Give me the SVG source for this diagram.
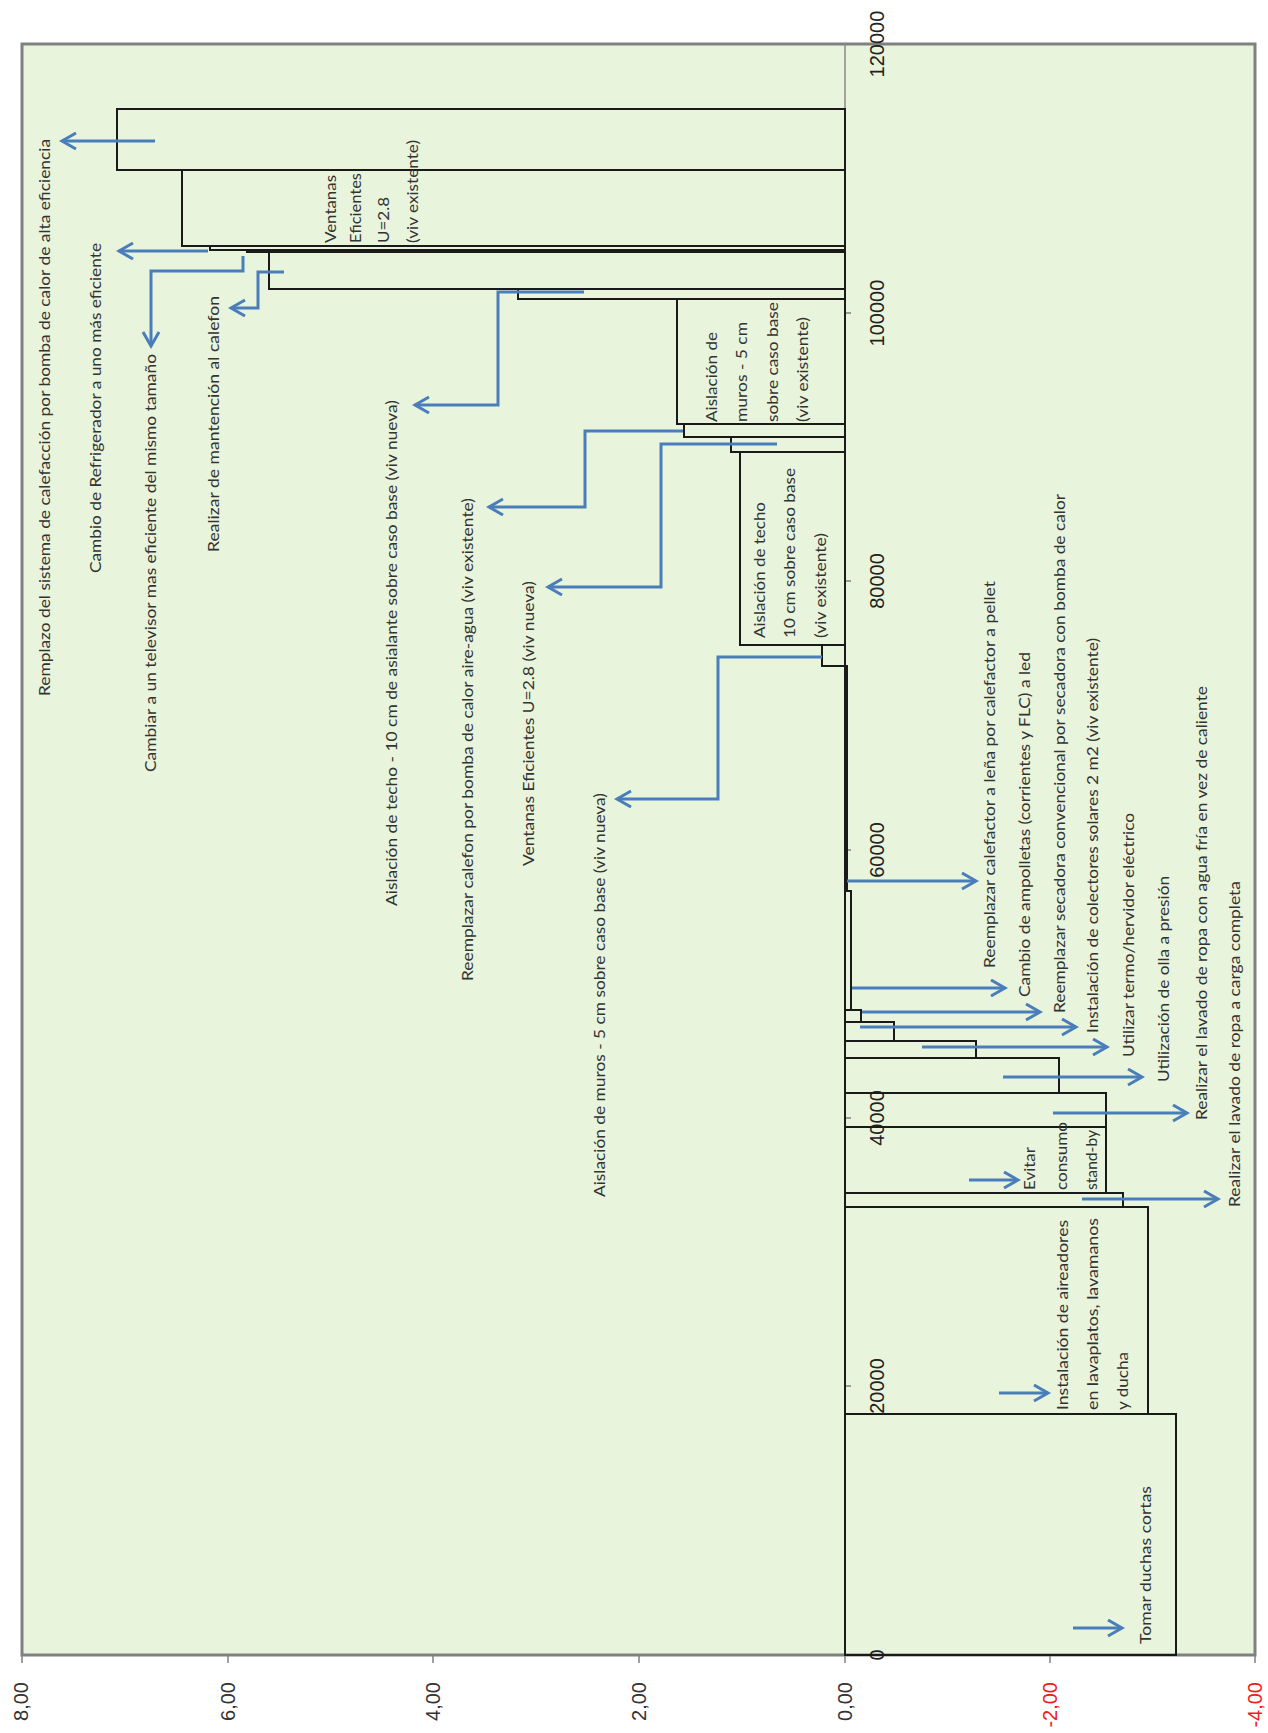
<svg xmlns="http://www.w3.org/2000/svg" width="1268" height="1733" viewBox="0 0 1268 1733">
<defs>
<style>
.bar{fill:none;stroke:#1a1a1a;stroke-width:2}
.lb{font-family:Lato,"Open Sans","Liberation Sans",sans-serif;font-size:16px;fill:#333}
.ax{font-family:"Liberation Sans",Arial,sans-serif;font-size:20px;fill:#222}
.cx{font-family:"Liberation Sans",Arial,sans-serif;font-size:20px;fill:#333}
.neg{fill:#ee1c1c}
.ar{fill:none;stroke:#4a7ebb;stroke-width:3;marker-end:url(#ah)}
.tk{stroke:#808080;stroke-width:1.5}
</style>
<marker id="ah" markerUnits="userSpaceOnUse" markerWidth="20" markerHeight="20" refX="15" refY="9" orient="auto">
<path d="M1,1 L15,9 L1,17" fill="none" stroke="#4a7ebb" stroke-width="3"/>
</marker>
</defs>
<rect width="1268" height="1733" fill="#fff"/>
<g id="plot">
<rect x="22" y="44" width="1233" height="1611" fill="#e9f4dc" stroke="#808080" stroke-width="3"/>
<line x1="845" y1="44" x2="845" y2="1655" stroke="#8a8a8a" stroke-width="1.5"/>
</g>
<g id="axis-abatement">
<line class="tk" x1="845" y1="313" x2="851" y2="313"/>
<line class="tk" x1="845" y1="581" x2="851" y2="581"/>
<line class="tk" x1="845" y1="850" x2="851" y2="850"/>
<line class="tk" x1="845" y1="1118" x2="851" y2="1118"/>
<line class="tk" x1="845" y1="1386" x2="851" y2="1386"/>
<text class="ax" text-anchor="middle" transform="translate(884,44) rotate(-90)">120000</text>
<text class="ax" text-anchor="middle" transform="translate(884,313) rotate(-90)">100000</text>
<text class="ax" text-anchor="middle" transform="translate(884,581) rotate(-90)">80000</text>
<text class="ax" text-anchor="middle" transform="translate(884,850) rotate(-90)">60000</text>
<text class="ax" text-anchor="middle" transform="translate(884,1118) rotate(-90)">40000</text>
<text class="ax" text-anchor="middle" transform="translate(884,1386) rotate(-90)">20000</text>
<text class="ax" text-anchor="middle" transform="translate(884,1655) rotate(-90)">0</text>
</g>
<g id="axis-cost">
<line class="tk" x1="22" y1="1655" x2="22" y2="1663"/>
<line class="tk" x1="228" y1="1655" x2="228" y2="1663"/>
<line class="tk" x1="433" y1="1655" x2="433" y2="1663"/>
<line class="tk" x1="639" y1="1655" x2="639" y2="1663"/>
<line class="tk" x1="845" y1="1655" x2="845" y2="1663"/>
<line class="tk" x1="1050" y1="1655" x2="1050" y2="1663"/>
<line class="tk" x1="1255" y1="1655" x2="1255" y2="1663"/>
<text class="cx" text-anchor="end" transform="translate(28,1682) rotate(-90)">8,00</text>
<text class="cx" text-anchor="end" transform="translate(235,1682) rotate(-90)">6,00</text>
<text class="cx" text-anchor="end" transform="translate(440,1682) rotate(-90)">4,00</text>
<text class="cx" text-anchor="end" transform="translate(646,1682) rotate(-90)">2,00</text>
<text class="cx" text-anchor="end" transform="translate(852,1682) rotate(-90)">0,00</text>
<text class="cx neg" text-anchor="end" transform="translate(1057,1682) rotate(-90)">-2,00</text>
<text class="cx neg" text-anchor="end" transform="translate(1262,1682) rotate(-90)">-4,00</text>
</g>
<g id="m-calefaccion-bomba"><rect class="bar" x="117" y="109" width="728" height="61"/>
<text class="lb" transform="translate(50,696) rotate(-90)" textLength="557" lengthAdjust="spacingAndGlyphs">Remplazo del sistema de calefacción por bomba de calor de alta eficiencia</text></g>
<g id="m-ventanas-existente"><rect class="bar" x="182" y="170" width="663" height="76"/>
<text class="lb" transform="translate(336,243) rotate(-90)" textLength="68" lengthAdjust="spacingAndGlyphs">Ventanas</text>
<text class="lb" transform="translate(361,243) rotate(-90)" textLength="70" lengthAdjust="spacingAndGlyphs">Eficientes</text>
<text class="lb" transform="translate(389,243) rotate(-90)" textLength="46" lengthAdjust="spacingAndGlyphs">U=2.8</text>
<text class="lb" transform="translate(418,243) rotate(-90)" textLength="103" lengthAdjust="spacingAndGlyphs">(viv existente)</text></g>
<g id="m-refrigerador"><rect class="bar" x="210" y="246" width="635" height="4"/>
<text class="lb" transform="translate(101,573) rotate(-90)" textLength="330" lengthAdjust="spacingAndGlyphs">Cambio de Refrigerador a uno más eficiente</text></g>
<g id="m-televisor"><rect class="bar" x="247" y="250" width="598" height="2"/>
<text class="lb" transform="translate(156,772) rotate(-90)" textLength="418" lengthAdjust="spacingAndGlyphs">Cambiar a un televisor mas eficiente del mismo tamaño</text></g>
<g id="m-calefon-mantencion"><rect class="bar" x="269" y="252" width="576" height="37"/>
<text class="lb" transform="translate(219,552) rotate(-90)" textLength="256" lengthAdjust="spacingAndGlyphs">Realizar de mantención al calefon</text></g>
<g id="m-techo-nueva"><rect class="bar" x="518" y="289" width="327" height="10"/>
<text class="lb" transform="translate(397,906) rotate(-90)" textLength="506" lengthAdjust="spacingAndGlyphs">Aislación de techo - 10 cm de asialante  sobre caso base (viv nueva)</text></g>
<g id="m-muros-existente"><rect class="bar" x="677" y="299" width="168" height="125"/>
<text class="lb" transform="translate(717,422) rotate(-90)" textLength="90" lengthAdjust="spacingAndGlyphs">Aislación de</text>
<text class="lb" transform="translate(747,422) rotate(-90)" textLength="100" lengthAdjust="spacingAndGlyphs">muros - 5 cm</text>
<text class="lb" transform="translate(778,422) rotate(-90)" textLength="120" lengthAdjust="spacingAndGlyphs">sobre caso base</text>
<text class="lb" transform="translate(808,422) rotate(-90)" textLength="105" lengthAdjust="spacingAndGlyphs">(viv existente)</text></g>
<g id="m-calefon-bomba"><rect class="bar" x="684" y="424" width="161" height="13"/>
<text class="lb" transform="translate(473,981) rotate(-90)" textLength="483" lengthAdjust="spacingAndGlyphs">Reemplazar calefon por bomba de calor aire-agua (viv existente)</text></g>
<g id="m-ventanas-nueva"><rect class="bar" x="731" y="437" width="114" height="15"/>
<text class="lb" transform="translate(534,866) rotate(-90)" textLength="285" lengthAdjust="spacingAndGlyphs">Ventanas Eficientes  U=2.8 (viv nueva)</text></g>
<g id="m-techo-existente"><rect class="bar" x="740" y="452" width="105" height="193"/>
<text class="lb" transform="translate(765,638) rotate(-90)" textLength="136" lengthAdjust="spacingAndGlyphs">Aislación de techo</text>
<text class="lb" transform="translate(795,638) rotate(-90)" textLength="170" lengthAdjust="spacingAndGlyphs">10 cm sobre caso base</text>
<text class="lb" transform="translate(826,638) rotate(-90)" textLength="105" lengthAdjust="spacingAndGlyphs">(viv existente)</text></g>
<g id="m-muros-nueva"><rect class="bar" x="822" y="645" width="23" height="21"/>
<text class="lb" transform="translate(605,1197) rotate(-90)" textLength="404" lengthAdjust="spacingAndGlyphs">Aislación de muros - 5 cm sobre caso base (viv nueva)</text></g>
<g id="m-pellet"><rect class="bar" x="845" y="666" width="2" height="225"/>
<text class="lb" transform="translate(995,968) rotate(-90)" textLength="387" lengthAdjust="spacingAndGlyphs">Reemplazar calefactor a leña por calefactor a pellet</text></g>
<g id="m-ampolletas"><rect class="bar" x="845" y="891" width="6" height="119"/>
<text class="lb" transform="translate(1030,997) rotate(-90)" textLength="345" lengthAdjust="spacingAndGlyphs">Cambio de ampolletas (corrientes y FLC) a led</text></g>
<g id="m-secadora"><rect class="bar" x="845" y="1010" width="16" height="12"/>
<text class="lb" transform="translate(1065,1013) rotate(-90)" textLength="519" lengthAdjust="spacingAndGlyphs">Reemplazar secadora convencional por secadora con bomba de calor</text></g>
<g id="m-colectores"><rect class="bar" x="845" y="1022" width="49" height="19"/>
<text class="lb" transform="translate(1098,1033) rotate(-90)" textLength="395" lengthAdjust="spacingAndGlyphs">Instalación de colectores solares 2 m2 (viv existente)</text></g>
<g id="m-termo"><rect class="bar" x="845" y="1041" width="131" height="17"/>
<text class="lb" transform="translate(1134,1057) rotate(-90)" textLength="244" lengthAdjust="spacingAndGlyphs">Utilizar termo/hervidor eléctrico</text></g>
<g id="m-olla"><rect class="bar" x="845" y="1058" width="214" height="35"/>
<text class="lb" transform="translate(1169,1082) rotate(-90)" textLength="206" lengthAdjust="spacingAndGlyphs">Utilización de olla a presión</text></g>
<g id="m-lavado-fria"><rect class="bar" x="845" y="1093" width="261" height="34"/>
<text class="lb" transform="translate(1207,1120) rotate(-90)" textLength="434" lengthAdjust="spacingAndGlyphs">Realizar el lavado de ropa con agua fría en vez de caliente</text></g>
<g id="m-standby"><rect class="bar" x="845" y="1127" width="261" height="66"/>
<text class="lb" transform="translate(1035,1190) rotate(-90)" textLength="43" lengthAdjust="spacingAndGlyphs">Evitar</text>
<text class="lb" transform="translate(1067,1190) rotate(-90)" textLength="68" lengthAdjust="spacingAndGlyphs">consumo</text>
<text class="lb" transform="translate(1097,1190) rotate(-90)" textLength="60" lengthAdjust="spacingAndGlyphs">stand-by</text></g>
<g id="m-lavado-carga"><rect class="bar" x="845" y="1193" width="278" height="14"/>
<text class="lb" transform="translate(1240,1207) rotate(-90)" textLength="326" lengthAdjust="spacingAndGlyphs">Realizar el lavado de ropa a carga completa</text></g>
<g id="m-aireadores"><rect class="bar" x="845" y="1207" width="303" height="207"/>
<text class="lb" transform="translate(1068,1410) rotate(-90)" textLength="190" lengthAdjust="spacingAndGlyphs">Instalación de aireadores</text>
<text class="lb" transform="translate(1098,1410) rotate(-90)" textLength="192" lengthAdjust="spacingAndGlyphs">en lavaplatos, lavamanos</text>
<text class="lb" transform="translate(1128,1410) rotate(-90)" textLength="58" lengthAdjust="spacingAndGlyphs">y ducha</text></g>
<g id="m-duchas"><rect class="bar" x="845" y="1414" width="331" height="241"/>
<text class="lb" transform="translate(1151,1644) rotate(-90)" textLength="158" lengthAdjust="spacingAndGlyphs">Tomar duchas cortas</text></g>
<g id="connectors">
<polyline class="ar" points="155,141 62,141"/>
<polyline class="ar" points="208,251 119,251"/>
<polyline class="ar" points="243,256 243,271 151,271 151,346"/>
<polyline class="ar" points="284,272 258,272 258,308 231,308"/>
<polyline class="ar" points="584,292 498,292 498,405 415,405"/>
<polyline class="ar" points="683,431 585,431 585,507 489,507"/>
<polyline class="ar" points="777,444 661,444 661,587 548,587"/>
<polyline class="ar" points="822,657 718,657 718,799 617,799"/>
<polyline class="ar" points="847,881 976,881"/>
<polyline class="ar" points="852,988 1005,988"/>
<polyline class="ar" points="862,1012 1040,1012"/>
<polyline class="ar" points="860,1027 1076,1027"/>
<polyline class="ar" points="922,1047 1107,1047"/>
<polyline class="ar" points="1003,1077 1142,1077"/>
<polyline class="ar" points="1053,1113 1187,1113"/>
<polyline class="ar" points="969,1180 1018,1180"/>
<polyline class="ar" points="1082,1199 1218,1199"/>
<polyline class="ar" points="999,1393 1048,1393"/>
<polyline class="ar" points="1073,1628 1122,1628"/>
</g>
</svg>
